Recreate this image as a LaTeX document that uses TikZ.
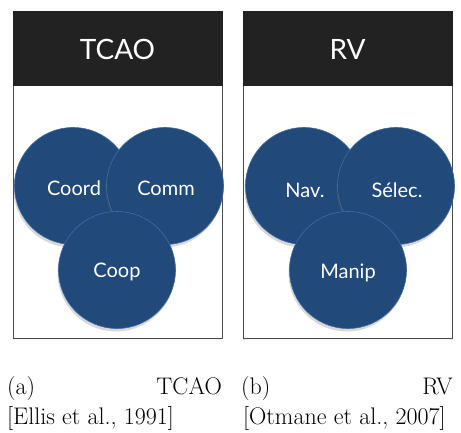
\documentclass[tikz,border=0pt]{standalone}
\usepackage{fontspec}
\newfontfamily\gill{Lato}
\usetikzlibrary{shadows}
\definecolor{hdr}{HTML}{222222}
\definecolor{cblue}{HTML}{21497A}
\definecolor{cedge}{HTML}{3F6BA5}
\tikzset{
  header/.style={fill=hdr,draw=hdr},
  panel/.style={draw=black!70,line width=0.6pt,fill=white,
    drop shadow={shadow xshift=0pt,shadow yshift=-2pt,opacity=0.15,fill=black!40}},
  title/.style={text=white,font=\gill\fontsize{28}{33}\selectfont},
  bubble/.style={circle,fill=cblue,draw=cedge,line width=0.6pt,minimum size=117pt,inner sep=0pt,
    drop shadow={shadow xshift=-1pt,shadow yshift=-3pt,opacity=0.25,fill=black!60}},
  btext/.style={text=white,font=\gill\fontsize{20}{24}\selectfont},
  captxt/.style={font=\fontsize{24}{29}\selectfont,inner sep=0pt}
}
\begin{document}
\begin{tikzpicture}[x=1pt,y=-1pt]
\useasboundingbox (0,0) rectangle (461,433);
% left panel
\path[panel] (13,85) rectangle (222,338);
\path[header] (13,11) rectangle (222,85);
\node[title] (ta) at (117.5,49) {TCAO};
\node[bubble] (coord) at (73,186) {};
\node[bubble] (comm) at (165,186) {};
\node[bubble] (coop) at (117,270) {};
\node[btext] (tcoord) at (74,188) {Coord};
\node[btext] (tcomm) at (166,188) {Comm};
\node[btext] (tcoop) at (117,272) {Coop};
% right panel
\path[panel] (243,85) rectangle (452,338);
\path[header] (243,11) rectangle (452,85);
\node[title] (tb) at (347.5,49) {RV};
\node[bubble] (nav) at (304,186) {};
\node[bubble] (sel) at (396,186) {};
\node[bubble] (man) at (348,270) {};
\node[btext] (tnav) at (305,190) {Nav.};
\node[btext] (tsel) at (397,190) {Sélec.};
\node[btext] (tman) at (348,273) {Manip};
% captions
\node[captxt,anchor=base west] (ca1) at (7,394) {(a)};
\node[captxt,anchor=base east] (ca2) at (222,394) {TCAO};
\node[captxt,anchor=base west] (ca3) at (7,424) {[Ellis et al., 1991]};
\node[captxt,anchor=base west] (cb1) at (241,394) {(b)};
\node[captxt,anchor=base east] (cb2) at (453,394) {RV};
\node[captxt,anchor=base west] (cb3) at (243,424) {[Otmane et al., 2007]};
\end{tikzpicture}
\end{document}
